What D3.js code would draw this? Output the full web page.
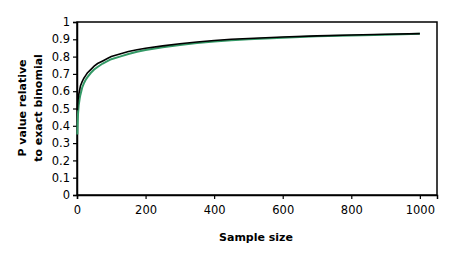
<!DOCTYPE html>
<html>
<head>
<meta charset="utf-8">
<script src="https://cdn.jsdelivr.net/npm/d3@7"></script>
<style>
  body { margin: 0; background: #fff; }
  text { font-family: "DejaVu Sans", sans-serif; }
</style>
</head>
<body>
<div id="wrapper"></div>
<script>
// sample sizes and the two p value ratio series
const sampleSizes = [1, 2, 3, 5, 8, 10, 15, 20, 25, 30, 40, 50, 60, 75, 90, 100, 125, 150, 175, 200, 250, 300, 350, 400, 450, 500, 600, 700, 800, 900, 1000]
const blackSeries = [0.49, 0.53, 0.55, 0.58, 0.61, 0.63, 0.655, 0.675, 0.69, 0.705, 0.725, 0.745, 0.76, 0.775, 0.79, 0.80, 0.815, 0.83, 0.84, 0.848, 0.862, 0.874, 0.884, 0.893, 0.90, 0.905, 0.913, 0.92, 0.925, 0.929, 0.933]
const greenSeries = [0.35, 0.42, 0.47, 0.52, 0.56, 0.58, 0.62, 0.645, 0.665, 0.68, 0.705, 0.725, 0.74, 0.76, 0.775, 0.785, 0.80, 0.815, 0.828, 0.838, 0.854, 0.867, 0.878, 0.887, 0.895, 0.90, 0.909, 0.917, 0.922, 0.927, 0.932]
const xTicks = [0, 200, 400, 600, 800, 1000]
const yTicks = [0, 0.1, 0.2, 0.3, 0.4, 0.5, 0.6, 0.7, 0.8, 0.9, 1]

function drawChart() {
    const width = 467
    const height = 259
    const left = 77, top = 22, right = 437, bottom = 195

    const svg = d3.select("#wrapper").append("svg")
        .attr("width", width)
        .attr("height", height)

    const x = d3.scaleLinear().domain([0, 1050]).range([left, right])
    const y = d3.scaleLinear().domain([0, 1]).range([bottom, top])

    // frame
    svg.append("rect")
        .attr("x", left).attr("y", top)
        .attr("width", right - left).attr("height", bottom - top)
        .attr("fill", "none").attr("stroke", "#000").attr("stroke-width", 1.5)

    const yAxis = svg.append("g")
        .attr("transform", "translate(" + left + ",0)")
        .call(d3.axisLeft(y).tickValues(yTicks).tickSize(4).tickPadding(3)
            .tickFormat(d => d === 0 || d === 1 ? d3.format("d")(d) : d3.format(".1f")(d)))
    const xAxis = svg.append("g")
        .attr("transform", "translate(0," + bottom + ")")
        .call(d3.axisBottom(x).tickValues(xTicks).tickSize(4).tickPadding(7).tickFormat(d3.format("d")))

    for (const ax of [xAxis, yAxis]) {
        ax.select(".domain").attr("stroke-width", 1.5)
        ax.selectAll(".tick line").attr("stroke-width", 1.2)
        ax.selectAll("text").style("font-size", "11.5px").attr("fill", "#000")
    }

    const line = d3.line()
        .x(d => x(d[0]))
        .y(d => y(d[1]))

    svg.append("path")
        .datum(sampleSizes.map((n, i) => [n, greenSeries[i]]))
        .attr("d", line)
        .attr("fill", "none").attr("stroke", "#339966").attr("stroke-width", 2)
    svg.append("path")
        .datum(sampleSizes.map((n, i) => [n, blackSeries[i]]))
        .attr("d", line)
        .attr("fill", "none").attr("stroke", "#000").attr("stroke-width", 1.6)

    svg.append("text")
        .attr("x", 256)
        .attr("y", 241)
        .attr("text-anchor", "middle")
        .style("font-size", "11px").style("font-weight", "bold")
        .text("Sample size")

    const yl = svg.append("text")
        .attr("transform", "translate(26,108) rotate(-90)")
        .attr("text-anchor", "middle")
        .style("font-size", "11px").style("font-weight", "bold")
    yl.append("tspan").attr("x", 0).attr("y", 0).text("P value relative")
    yl.append("tspan").attr("x", 0).attr("y", 16).text("to exact binomial")
}
drawChart()
</script>
</body>
</html>
